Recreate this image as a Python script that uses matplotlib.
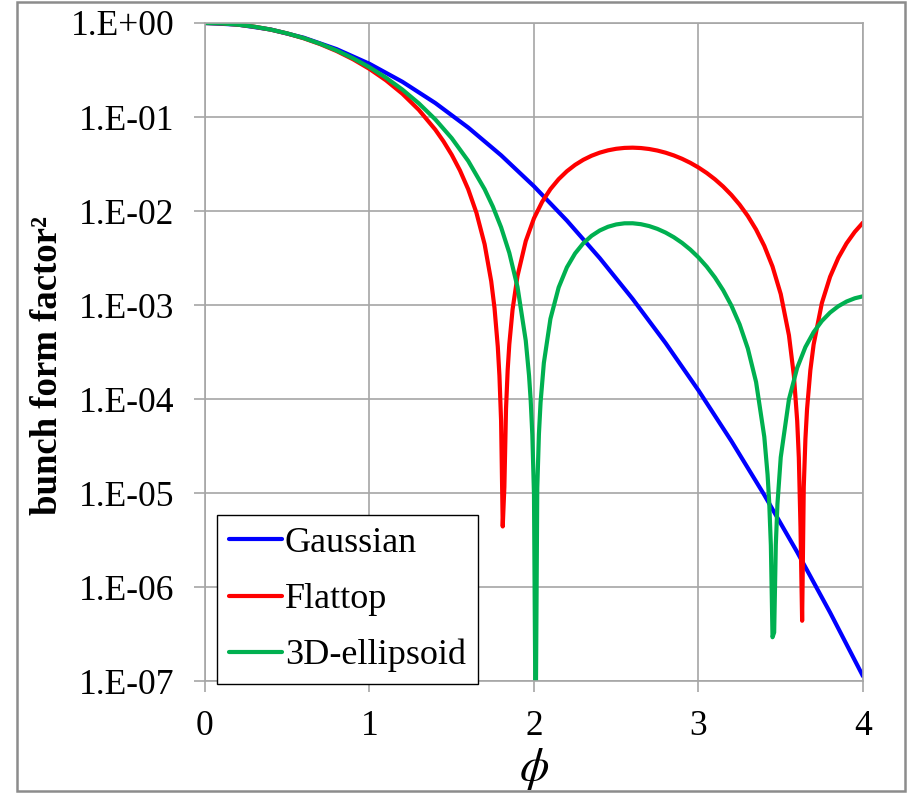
import matplotlib
matplotlib.use("Agg")
import matplotlib.pyplot as plt
from matplotlib.patches import Rectangle

# === Data ===
phi_gauss = [0.0, 0.2, 0.4, 0.6, 0.8, 1.0, 1.2, 1.4, 1.6, 1.8, 2.0,
             2.2, 2.4, 2.6, 2.8, 3.0, 3.2, 3.4, 3.6, 3.8, 4.0]
ff_gauss = [1.0, 0.96079, 0.85214, 0.69768, 0.52729, 0.36788, 0.23693,
            0.14086, 0.077305, 0.039164, 0.018316, 7.9071e-3, 3.1511e-3,
            1.1592e-3, 3.9367e-4, 1.2341e-4, 3.5713e-5, 9.5402e-6,
            2.3526e-6, 5.3553e-7, 1.1254e-7]

phi_flat = [0.0, 0.1, 0.2, 0.3, 0.4, 0.5, 0.6, 0.7, 0.8, 0.9, 1.0, 1.1,
            1.2, 1.3, 1.4, 1.45, 1.5, 1.55, 1.6, 1.65, 1.7, 1.74, 1.76,
            1.78, 1.79, 1.80, 1.81, 1.82, 1.83, 1.84, 1.85, 1.87, 1.90,
            1.95, 2.0, 2.05, 2.1, 2.15, 2.2, 2.25, 2.3, 2.35, 2.4, 2.45,
            2.5, 2.55, 2.6, 2.65, 2.7, 2.75, 2.8, 2.85, 2.9, 2.95, 3.0,
            3.05, 3.1, 3.15, 3.2, 3.25, 3.3, 3.35, 3.4, 3.45, 3.5, 3.55,
            3.58, 3.60, 3.61, 3.62, 3.63, 3.64, 3.65, 3.66, 3.68, 3.70,
            3.75, 3.8, 3.85, 3.9, 3.95, 4.0]
ff_flat = [1.0, 0.99004, 0.96064, 0.91318, 0.84990, 0.77370, 0.68803,
           0.59659, 0.50318, 0.41146, 0.32474, 0.24580, 0.17678, 0.11909,
           0.073391, 0.055047, 0.039621, 0.027005, 0.017054, 9.5934e-3,
           4.4232e-3, 1.7891e-3, 9.317e-4, 3.6016e-4, 1.7668e-4, 5.877e-5,
           4.407e-6, 1.1606e-5, 7.835e-5, 2.0261e-4, 3.824e-4, 9.004e-4,
           2.0431e-3, 4.7888e-3, 8.3714e-3, 0.012551, 0.017102, 0.021810,
           0.026486, 0.030956, 0.035073, 0.038713, 0.041777, 0.044195,
           0.045912, 0.046910, 0.047186, 0.046757, 0.045666, 0.043964,
           0.041720, 0.039014, 0.035934, 0.032573, 0.029025, 0.025386,
           0.021749, 0.018200, 0.014820, 0.011681, 8.8418e-3, 6.3535e-3,
           4.2537e-3, 2.5674e-3, 1.3076e-3, 4.7494e-4, 1.7638e-4, 5.8726e-5,
           2.3758e-5, 4.4059e-6, 4.3757e-7, 1.1606e-5, 3.7648e-5, 7.8292e-5,
           2.0220e-4, 3.8091e-4, 1.0495e-3, 1.9979e-3, 3.1752e-3, 4.5271e-3,
           5.9976e-3, 7.5303e-3]

phi_ell = [0.0, 0.1, 0.2, 0.3, 0.4, 0.5, 0.6, 0.7, 0.8, 0.9, 1.0, 1.1,
           1.2, 1.3, 1.4, 1.5, 1.6, 1.7, 1.75, 1.8, 1.85, 1.9, 1.95, 1.97,
           1.98, 1.99, 2.00, 2.01, 2.02, 2.03, 2.04, 2.06, 2.1, 2.15, 2.2,
           2.25, 2.3, 2.35, 2.4, 2.45, 2.5, 2.55, 2.6, 2.65, 2.7, 2.75,
           2.8, 2.85, 2.9, 2.95, 3.0, 3.05, 3.1, 3.15, 3.2, 3.25, 3.3,
           3.35, 3.40, 3.42, 3.43, 3.44, 3.45, 3.46, 3.47, 3.48, 3.50,
           3.55, 3.6, 3.65, 3.7, 3.75, 3.8, 3.85, 3.9, 3.95, 4.0]
ff_ell = [1.0, 0.99004, 0.96068, 0.91340, 0.85055, 0.77520, 0.69088,
          0.60139, 0.51048, 0.42170, 0.33811, 0.26218, 0.19569, 0.13965,
          0.094365, 0.059487, 0.034138, 0.017050, 0.011138, 6.7168e-3,
          3.5871e-3, 1.5503e-3, 4.1788e-4, 1.7737e-4, 9.6800e-5, 4.1619e-5,
          9.7007e-6, 2.486e-8, 1.1325e-5, 4.2359e-5, 9.1911e-5, 2.4182e-4,
          7.1316e-4, 1.5374e-3, 2.5136e-3, 3.5418e-3, 4.5403e-3, 5.4447e-3,
          6.2077e-3, 6.7972e-3, 7.1955e-3, 7.3970e-3, 7.4068e-3, 7.2390e-3,
          6.9136e-3, 6.4563e-3, 5.8956e-3, 5.2613e-3, 4.5833e-3, 3.8902e-3,
          3.2078e-3, 2.5593e-3, 1.9637e-3, 1.4360e-3, 9.8671e-4, 6.2206e-4,
          3.4431e-4, 1.5178e-4, 3.9645e-5, 1.5675e-5, 7.8826e-6, 2.7822e-6,
          2.9241e-7, 3.2915e-7, 2.8060e-6, 7.6347e-6, 2.3984e-5, 9.9383e-5,
          2.1465e-4, 3.5713e-4, 5.1473e-4, 6.7616e-4, 8.3117e-4, 9.7101e-4,
          1.0887e-3, 1.1789e-3, 1.2384e-3]

y_ticks = [1e0, 1e-1, 1e-2, 1e-3, 1e-4, 1e-5, 1e-6, 1e-7]
y_labels = ["1.E+00", "1.E-01", "1.E-02", "1.E-03", "1.E-04", "1.E-05",
            "1.E-06", "1.E-07"]
x_ticks = [0, 1, 2, 3, 4]

# === Plot ===
plt.rcParams['font.family'] = ['Liberation Serif', 'DejaVu Serif']
plt.rcParams['mathtext.fontset'] = 'stix'

fig = plt.figure(figsize=(9.11, 7.93), dpi=100)
ax = fig.add_axes([0.2250, 0.1412, 0.7223, 0.8298])

grey = '#a6a6a6'
lw = 3.0
ax.plot(phi_gauss, ff_gauss, color='#0000ff', lw=lw, label='Gaussian',
        solid_capstyle='round')
ax.plot(phi_flat, ff_flat, color='#ff0000', lw=lw, label='Flattop',
        solid_capstyle='round')
ax.plot(phi_ell, ff_ell, color='#00b050', lw=lw, label='3D-ellipsoid',
        solid_capstyle='round')

ax.set_yscale('log')
ax.set_xlim(0, 4)
ax.set_ylim(1e-7, 1)
ax.set_yticks(y_ticks)
ax.set_yticklabels(y_labels)
ax.minorticks_off()
ax.set_xticks(x_ticks)
ax.set_xticklabels([str(t) for t in x_ticks])

ax.grid(True, color=grey, lw=1.2)
ax.set_axisbelow(True)
for s in ax.spines.values():
    s.set_color(grey)
    s.set_linewidth(1.2)
ax.tick_params(axis='both', colors=grey, labelcolor='black', labelsize=25.5,
               length=8, width=1.2, direction='out')
ax.tick_params(axis='y', pad=14)
ax.tick_params(axis='x', pad=13)

ax.set_xlabel(r'$\phi$', fontsize=34, labelpad=2)
ax.set_ylabel('bunch form factor²', fontsize=26.5, fontweight='bold')
ax.yaxis.set_label_coords(-0.213, 0.48)

leg = ax.legend(loc='lower left', bbox_to_anchor=(0.018, -0.005),
                borderaxespad=0, fontsize=26, frameon=True, fancybox=False,
                edgecolor='black', framealpha=1, handlelength=1.47,
                handletextpad=0.08, labelspacing=0.63, borderpad=0.33)
leg.get_frame().set_linewidth(1.0)

fig.patches.append(Rectangle((17 / 911, 2 / 793), 888 / 911, 789 / 793,
                             transform=fig.transFigure, fill=False,
                             edgecolor='#8c8c8c', lw=1.8))

fig.savefig('out.png', dpi=100)
